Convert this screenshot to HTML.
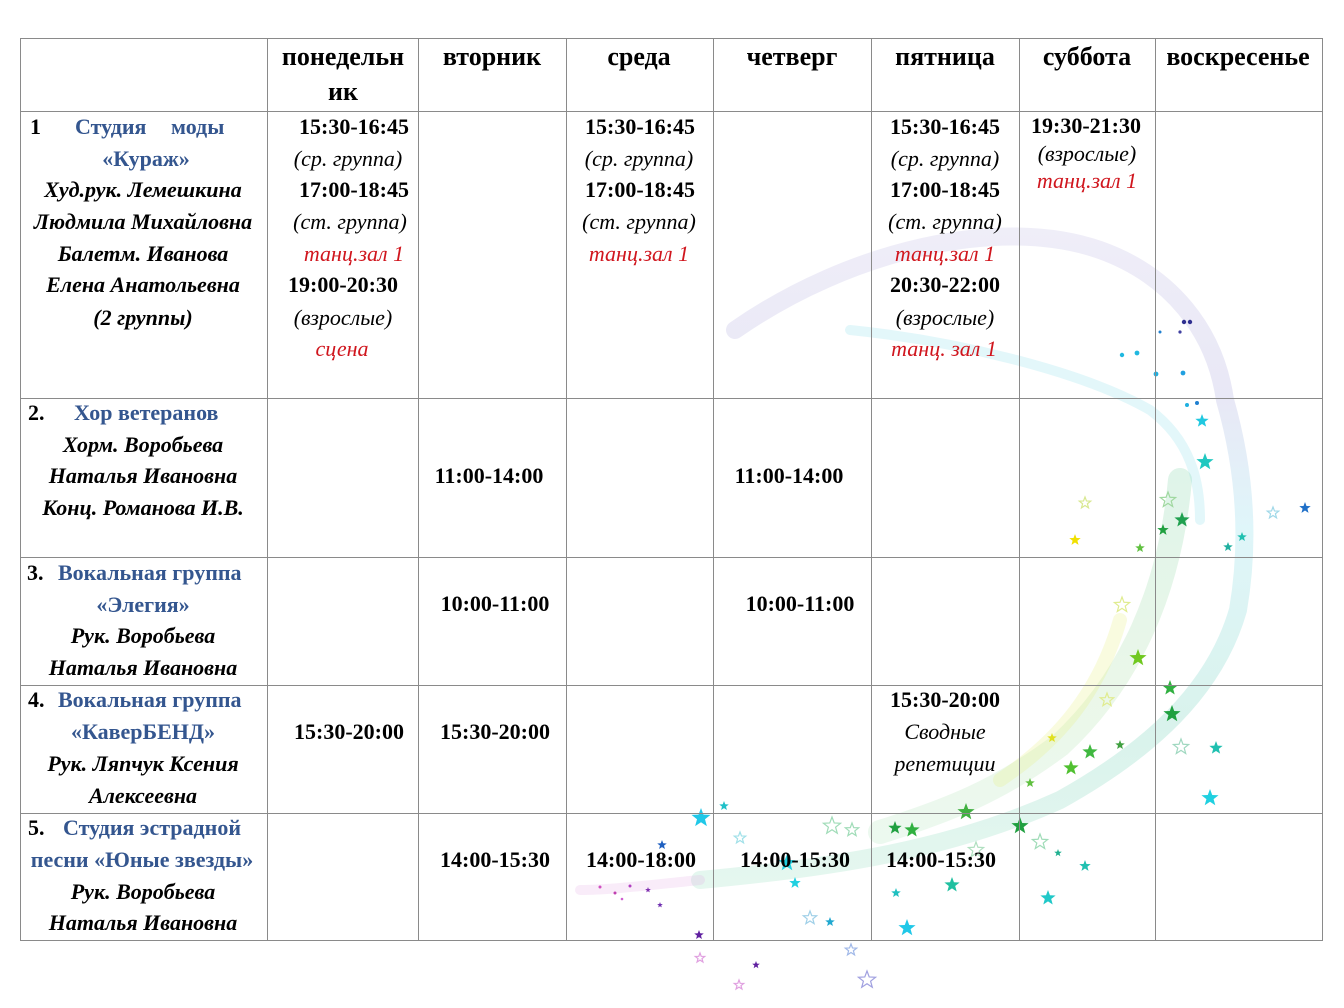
<!DOCTYPE html>
<html><head><meta charset="utf-8">
<style>
html,body{margin:0;padding:0;background:#fff;}
#w{position:relative;width:1344px;height:1008px;overflow:hidden;background:#fff;font-family:"Liberation Serif","DejaVu Serif",serif;}
.t{position:absolute;white-space:nowrap;font-size:22px;line-height:34px;height:34px;color:#000;}
.hd{font-size:26px;}
.c{width:300px;text-align:center;}
.b{font-weight:bold;}
.i{font-style:italic;}
.bi{font-weight:bold;font-style:italic;}
.bl{color:#34568f;font-weight:bold;}
.r{color:#d0161e;font-style:italic;}
.h{position:absolute;height:1.5px;background:#8a8a8a;}
.v{position:absolute;width:1.5px;background:#8a8a8a;}
svg{position:absolute;left:0;top:0;}
</style></head><body><div id="w">

<svg width="1344" height="1008" viewBox="0 0 1344 1008">
<defs>
<polygon id="s" vector-effect="non-scaling-stroke" points="0,-1 0.247,-0.34 0.951,-0.309 0.399,0.13 0.588,0.809 0,0.42 -0.588,0.809 -0.399,0.13 -0.951,-0.309 -0.247,-0.34"/>
<linearGradient id="go" gradientUnits="userSpaceOnUse" x1="0" y1="230" x2="0" y2="890">
<stop offset="0" stop-color="#b0a8dc"/>
<stop offset="0.25" stop-color="#8e8ad0"/>
<stop offset="0.45" stop-color="#60d0e4"/>
<stop offset="0.75" stop-color="#40c0a0"/>
<stop offset="1" stop-color="#80d8b0"/>
</linearGradient>
<linearGradient id="gi" gradientUnits="userSpaceOnUse" x1="0" y1="480" x2="0" y2="840">
<stop offset="0" stop-color="#60c890"/>
<stop offset="0.6" stop-color="#9ad890"/>
<stop offset="1" stop-color="#a0e0b0"/>
</linearGradient>
</defs>
<g fill="none" stroke-linecap="round">
<path d="M735 330 C850 250 1000 215 1100 250 C1170 275 1215 330 1225 400 C1245 470 1250 540 1238 610 C1215 690 1150 750 1060 800 C950 850 830 868 700 880" stroke="url(#go)" stroke-width="18" opacity="0.2"/>
<path d="M700 880 C650 885 610 890 580 890" stroke="#e0a0e0" stroke-width="10" opacity="0.2"/>
<path d="M850 330 C950 340 1080 370 1150 410 C1190 440 1200 480 1200 520" stroke="#80dce8" stroke-width="10" opacity="0.22"/>
<path d="M1180 480 C1170 590 1130 680 1060 745 C1000 790 950 810 880 832" stroke="url(#gi)" stroke-width="24" opacity="0.2"/>
<path d="M1120 620 C1100 690 1060 740 1000 780" stroke="#e8f080" stroke-width="14" opacity="0.25"/>
</g>
<g>
<use href="#s" transform="translate(701 818) scale(10)" fill="#20c8e8"/>
<use href="#s" transform="translate(724 806) scale(5)" fill="#20c0c8"/>
<use href="#s" transform="translate(662 845) scale(5)" fill="#2060c0"/>
<use href="#s" transform="translate(1205 462) scale(9)" fill="#20c8c0"/>
<use href="#s" transform="translate(1202 421) scale(7)" fill="#20c8e0"/>
<use href="#s" transform="translate(1305 508) scale(6)" fill="#2070c8"/>
<use href="#s" transform="translate(1075 540) scale(6)" fill="#f0e000"/>
<use href="#s" transform="translate(1140 548) scale(5)" fill="#60c040"/>
<use href="#s" transform="translate(1163 530) scale(6)" fill="#20a040"/>
<use href="#s" transform="translate(1182 520) scale(8)" fill="#20a050"/>
<use href="#s" transform="translate(1228 547) scale(5)" fill="#20b0a0"/>
<use href="#s" transform="translate(1242 537) scale(5)" fill="#20c0b0"/>
<use href="#s" transform="translate(1138 658) scale(9)" fill="#70c820"/>
<use href="#s" transform="translate(1170 688) scale(8)" fill="#30b040"/>
<use href="#s" transform="translate(1172 714) scale(9)" fill="#20a040"/>
<use href="#s" transform="translate(1216 748) scale(7)" fill="#20c0b0"/>
<use href="#s" transform="translate(1210 798) scale(9)" fill="#20d0e0"/>
<use href="#s" transform="translate(1090 752) scale(8)" fill="#40b840"/>
<use href="#s" transform="translate(1071 768) scale(8)" fill="#50c030"/>
<use href="#s" transform="translate(1120 745) scale(5)" fill="#40a040"/>
<use href="#s" transform="translate(1052 738) scale(5)" fill="#e0e020"/>
<use href="#s" transform="translate(1030 783) scale(5)" fill="#60c040"/>
<use href="#s" transform="translate(966 812) scale(9)" fill="#40b040"/>
<use href="#s" transform="translate(1020 826) scale(9)" fill="#20a040"/>
<use href="#s" transform="translate(895 828) scale(7)" fill="#20a040"/>
<use href="#s" transform="translate(912 830) scale(8)" fill="#30b040"/>
<use href="#s" transform="translate(1058 853) scale(4)" fill="#20b090"/>
<use href="#s" transform="translate(1085 866) scale(6)" fill="#20c0b0"/>
<use href="#s" transform="translate(952 885) scale(8)" fill="#20c0a0"/>
<use href="#s" transform="translate(1048 898) scale(8)" fill="#20c8c8"/>
<use href="#s" transform="translate(896 893) scale(5)" fill="#20c0c0"/>
<use href="#s" transform="translate(907 928) scale(9)" fill="#20c8e8"/>
<use href="#s" transform="translate(830 922) scale(5)" fill="#20a8d0"/>
<use href="#s" transform="translate(787 863) scale(9)" fill="#20d0e0"/>
<use href="#s" transform="translate(795 883) scale(6)" fill="#20d0e0"/>
<use href="#s" transform="translate(699 935) scale(5)" fill="#6020a0"/>
<use href="#s" transform="translate(756 965) scale(4)" fill="#6020a0"/>
<use href="#s" transform="translate(660 905) scale(3)" fill="#7030b0"/>
<use href="#s" transform="translate(648 890) scale(3)" fill="#8030b0"/>
</g>
<g fill="none" stroke-width="1.2">
<use href="#s" transform="translate(1085 503) scale(6)" stroke="#d8e890"/>
<use href="#s" transform="translate(1168 500) scale(8)" stroke="#a0d8a0"/>
<use href="#s" transform="translate(1273 513) scale(6)" stroke="#a0d8e8"/>
<use href="#s" transform="translate(1181 747) scale(8)" stroke="#a0d8c0"/>
<use href="#s" transform="translate(1122 605) scale(8)" stroke="#e0ec90"/>
<use href="#s" transform="translate(1107 700) scale(7)" stroke="#e0ec90"/>
<use href="#s" transform="translate(832 826) scale(9)" stroke="#a0dcb8"/>
<use href="#s" transform="translate(852 830) scale(7)" stroke="#a0dcb8"/>
<use href="#s" transform="translate(867 980) scale(9)" stroke="#a0a0e0"/>
<use href="#s" transform="translate(851 950) scale(6)" stroke="#a0b8e8"/>
<use href="#s" transform="translate(740 838) scale(6)" stroke="#a0e0e8"/>
<use href="#s" transform="translate(810 918) scale(7)" stroke="#a0d0e8"/>
<use href="#s" transform="translate(739 985) scale(5)" stroke="#e0a0e0"/>
<use href="#s" transform="translate(700 958) scale(5)" stroke="#e0a0e0"/>
<use href="#s" transform="translate(1040 842) scale(8)" stroke="#a0dcb8"/>
<use href="#s" transform="translate(976 850) scale(8)" stroke="#b0e0c0"/>
</g>
<g>
<circle cx="1184" cy="322" r="2.2" fill="#303090"/>
<circle cx="1190" cy="322" r="2.2" fill="#303090"/>
<circle cx="1180" cy="332" r="1.6" fill="#4040a0"/>
<circle cx="1122" cy="355" r="2.2" fill="#20b8e0"/>
<circle cx="1137" cy="353" r="2.4" fill="#20b8e0"/>
<circle cx="1156" cy="374" r="2.4" fill="#20b0e0"/>
<circle cx="1183" cy="373" r="2.4" fill="#20a0e0"/>
<circle cx="1160" cy="332" r="1.5" fill="#2080d0"/>
<circle cx="1197" cy="403" r="2" fill="#2080d0"/>
<circle cx="1187" cy="405" r="2" fill="#20b0e0"/>
<circle cx="600" cy="887" r="1.5" fill="#d050c0"/>
<circle cx="615" cy="893" r="1.5" fill="#c040b0"/>
<circle cx="630" cy="886" r="1.5" fill="#b040c0"/>
<circle cx="622" cy="899" r="1.3" fill="#d060d0"/>
</g>
</svg>

<!-- grid -->
<div class="h" style="left:20px;top:37.5px;width:1303px"></div>
<div class="h" style="left:20px;top:110.5px;width:1303px"></div>
<div class="h" style="left:20px;top:397.5px;width:1303px"></div>
<div class="h" style="left:20px;top:556.5px;width:1303px"></div>
<div class="h" style="left:20px;top:684.5px;width:1303px"></div>
<div class="h" style="left:20px;top:812.5px;width:1303px"></div>
<div class="h" style="left:20px;top:939.5px;width:1303px"></div>
<div class="v" style="left:19.5px;top:38px;height:903px"></div>
<div class="v" style="left:266.5px;top:38px;height:903px"></div>
<div class="v" style="left:417.5px;top:38px;height:903px"></div>
<div class="v" style="left:565.5px;top:38px;height:903px"></div>
<div class="v" style="left:712.5px;top:38px;height:903px"></div>
<div class="v" style="left:870.5px;top:38px;height:903px"></div>
<div class="v" style="left:1018.5px;top:38px;height:903px"></div>
<div class="v" style="left:1154.5px;top:38px;height:903px"></div>
<div class="v" style="left:1321.5px;top:38px;height:903px"></div>

<!-- header -->
<div class="t c b hd" style="left:193px;top:40px">понедельн</div>
<div class="t c b hd" style="left:193px;top:75px">ик</div>
<div class="t c b hd" style="left:342px;top:40px">вторник</div>
<div class="t c b hd" style="left:489px;top:40px">среда</div>
<div class="t c b hd" style="left:642px;top:40px">четверг</div>
<div class="t c b hd" style="left:795px;top:40px">пятница</div>
<div class="t c b hd" style="left:937px;top:40px">суббота</div>
<div class="t c b hd" style="left:1088px;top:40px">воскресенье</div>

<!-- row 1 -->
<div class="t b" style="left:30px;top:110px">1</div>
<div class="t bl" style="left:75px;top:110px">Студия</div>
<div class="t bl" style="left:171px;top:110px">моды</div>
<div class="t c bl" style="left:-4px;top:142px">«Кураж»</div>
<div class="t c bi" style="left:-7px;top:173px">Худ.рук. Лемешкина</div>
<div class="t c bi" style="left:-7px;top:205px">Людмила Михайловна</div>
<div class="t c bi" style="left:-7px;top:237px">Балетм. Иванова</div>
<div class="t c bi" style="left:-7px;top:268px">Елена Анатольевна</div>
<div class="t c bi" style="left:-7px;top:301px">(2 группы)</div>

<div class="t c b" style="left:204px;top:110px">15:30-16:45</div>
<div class="t c i" style="left:198px;top:142px">(ср. группа)</div>
<div class="t c b" style="left:204px;top:173px">17:00-18:45</div>
<div class="t c i" style="left:200px;top:205px">(ст. группа)</div>
<div class="t c r" style="left:204px;top:237px">танц.зал 1</div>
<div class="t c b" style="left:193px;top:268px">19:00-20:30</div>
<div class="t c i" style="left:193px;top:301px">(взрослые)</div>
<div class="t c r" style="left:192px;top:332px">сцена</div>

<div class="t c b" style="left:490px;top:110px">15:30-16:45</div>
<div class="t c i" style="left:489px;top:142px">(ср. группа)</div>
<div class="t c b" style="left:490px;top:173px">17:00-18:45</div>
<div class="t c i" style="left:489px;top:205px">(ст. группа)</div>
<div class="t c r" style="left:489px;top:237px">танц.зал 1</div>

<div class="t c b" style="left:795px;top:110px">15:30-16:45</div>
<div class="t c i" style="left:795px;top:142px">(ср. группа)</div>
<div class="t c b" style="left:795px;top:173px">17:00-18:45</div>
<div class="t c i" style="left:795px;top:205px">(ст. группа)</div>
<div class="t c r" style="left:795px;top:237px">танц.зал 1</div>
<div class="t c b" style="left:795px;top:268px">20:30-22:00</div>
<div class="t c i" style="left:795px;top:301px">(взрослые)</div>
<div class="t c r" style="left:794px;top:332px">танц. зал 1</div>

<div class="t c b" style="left:936px;top:109px">19:30-21:30</div>
<div class="t c i" style="left:937px;top:137px">(взрослые)</div>
<div class="t c r" style="left:937px;top:164px">танц.зал 1</div>

<!-- row 2 -->
<div class="t b" style="left:28px;top:396px">2.</div>
<div class="t bl" style="left:74px;top:396px">Хор ветеранов</div>
<div class="t c bi" style="left:-7px;top:428px">Хорм. Воробьева</div>
<div class="t c bi" style="left:-7px;top:459px">Наталья Ивановна</div>
<div class="t c bi" style="left:-7px;top:491px">Конц. Романова И.В.</div>
<div class="t c b" style="left:339px;top:459px">11:00-14:00</div>
<div class="t c b" style="left:639px;top:459px">11:00-14:00</div>

<!-- row 3 -->
<div class="t b" style="left:27px;top:556px">3.</div>
<div class="t bl" style="left:58px;top:556px">Вокальная группа</div>
<div class="t c bl" style="left:-7px;top:588px">«Элегия»</div>
<div class="t c bi" style="left:-7px;top:619px">Рук. Воробьева</div>
<div class="t c bi" style="left:-7px;top:651px">Наталья Ивановна</div>
<div class="t c b" style="left:345px;top:587px">10:00-11:00</div>
<div class="t c b" style="left:650px;top:587px">10:00-11:00</div>

<!-- row 4 -->
<div class="t b" style="left:28px;top:683px">4.</div>
<div class="t bl" style="left:58px;top:683px">Вокальная группа</div>
<div class="t c bl" style="left:-7px;top:715px">«КаверБЕНД»</div>
<div class="t c bi" style="left:-7px;top:747px">Рук. Ляпчук Ксения</div>
<div class="t c bi" style="left:-7px;top:779px">Алексеевна</div>
<div class="t c b" style="left:199px;top:715px">15:30-20:00</div>
<div class="t c b" style="left:345px;top:715px">15:30-20:00</div>
<div class="t c b" style="left:795px;top:683px">15:30-20:00</div>
<div class="t c i" style="left:795px;top:715px">Сводные</div>
<div class="t c i" style="left:795px;top:747px">репетиции</div>

<!-- row 5 -->
<div class="t b" style="left:28px;top:811px">5.</div>
<div class="t bl" style="left:63px;top:811px">Студия эстрадной</div>
<div class="t c bl" style="left:-8px;top:843px">песни «Юные звезды»</div>
<div class="t c bi" style="left:-7px;top:875px">Рук. Воробьева</div>
<div class="t c bi" style="left:-7px;top:906px">Наталья Ивановна</div>
<div class="t c b" style="left:345px;top:843px">14:00-15:30</div>
<div class="t c b" style="left:491px;top:843px">14:00-18:00</div>
<div class="t c b" style="left:645px;top:843px">14:00-15:30</div>
<div class="t c b" style="left:791px;top:843px">14:00-15:30</div>

</div></body></html>
